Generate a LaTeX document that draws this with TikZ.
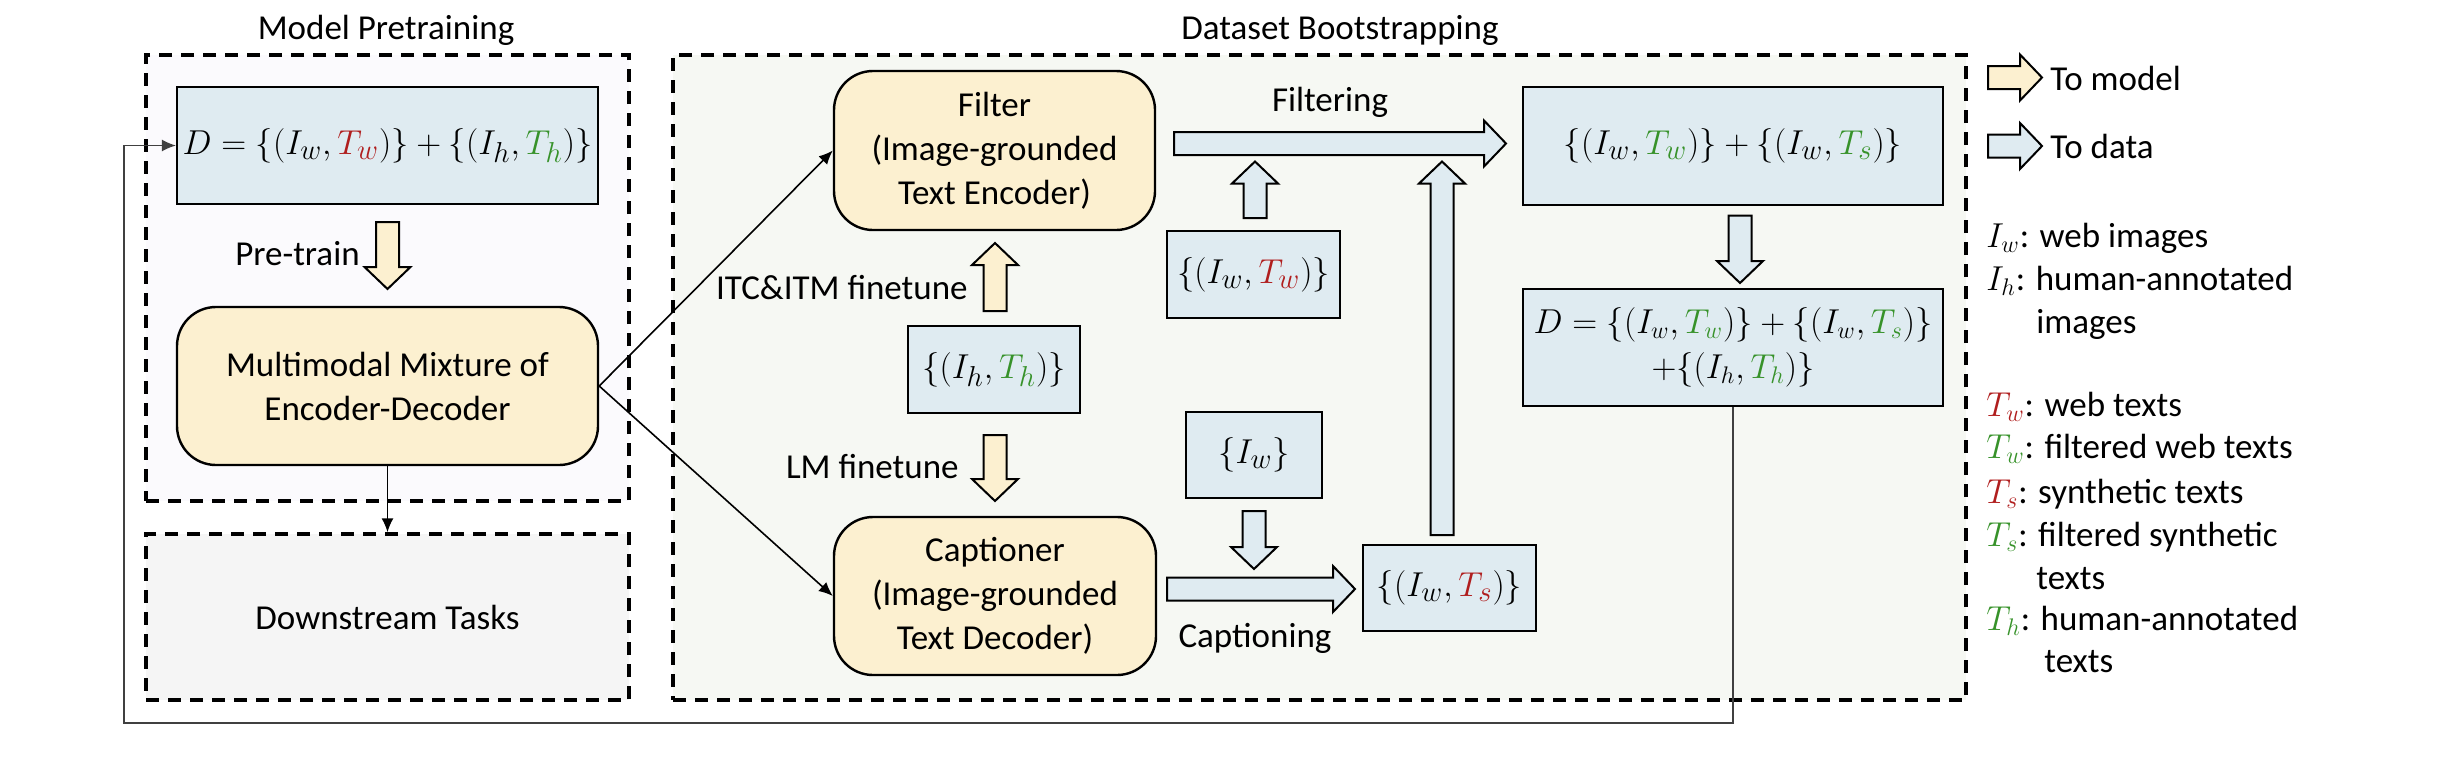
\documentclass[tikz,border=0pt]{standalone}
\usepackage{fontspec}
\setmainfont{Carlito}
\usetikzlibrary{arrows.meta,calc}
\definecolor{dblue}{HTML}{DFEBF1}
\definecolor{dbeige}{HTML}{FCF0D0}
\definecolor{mpbg}{HTML}{FBFAFD}
\definecolor{dbbg}{HTML}{F6F8F3}
\definecolor{dsbg}{HTML}{F5F5F5}
\definecolor{tred}{HTML}{B01E1E}
\definecolor{tgreen}{HTML}{37922A}
\newcommand\rT[1]{{\color{tred}T_{#1}}}
\newcommand\gT[1]{{\color{tgreen}T_{#1}}}
\newcommand\blockdown[3]{\path[#1] ($(#2)+(-5.75pt,0)$) -- ($(#2)+(5.75pt,0)$) -- ($(#3)+(5.75pt,11pt)$) -- ($(#3)+(11.5pt,11pt)$) -- (#3) -- ($(#3)+(-11.5pt,11pt)$) -- ($(#3)+(-5.75pt,11pt)$) -- cycle;}
\newcommand\blockup[3]{\path[#1] ($(#2)+(-5.75pt,0)$) -- ($(#2)+(5.75pt,0)$) -- ($(#3)+(5.75pt,-11pt)$) -- ($(#3)+(11.5pt,-11pt)$) -- (#3) -- ($(#3)+(-11.5pt,-11pt)$) -- ($(#3)+(-5.75pt,-11pt)$) -- cycle;}
\newcommand\blockright[3]{\path[#1] ($(#2)+(0,5.75pt)$) -- ($(#3)+(-11pt,5.75pt)$) -- ($(#3)+(-11pt,11.5pt)$) -- (#3) -- ($(#3)+(-11pt,-11.5pt)$) -- ($(#3)+(-11pt,-5.75pt)$) -- ($(#2)+(0,-5.75pt)$) -- cycle;}
\begin{document}
\begin{tikzpicture}[x=0.5pt,y=-0.5pt, font=\fontsize{17.5}{22}\selectfont,
  dbox/.style={draw, line width=1.2pt, fill=dblue, inner sep=0pt, align=center},
  mbox/.style={draw, line width=1.2pt, fill=dbeige, rounded corners=19.5pt, inner sep=0pt, align=center},
  cont/.style={draw, line width=1.7pt, dash pattern=on 6.5pt off 4.5pt, inner sep=0pt},
  barrow/.style={draw, line width=1pt, fill=dbeige},
  darrow/.style={draw, line width=1pt, fill=dblue},
  conn/.style={line width=0.8pt, -{Latex[length=7pt,width=6pt]}},
  fb/.style={line width=0.6pt, draw=black!75, -{Latex[length=7pt,width=6pt]}},
  lab/.style={inner sep=0pt},
  mth/.style={font=\fontsize{19}{24}\selectfont},
  mths/.style={font=\fontsize{17.5}{22.5}\selectfont},
]
\useasboundingbox (0,0) rectangle (2446,756);
% containers
\node[cont, fill=mpbg, minimum width=241.5pt, minimum height=223pt] (mp) at (387.5,278) {};
\node[cont, fill=dbbg, minimum width=646.5pt, minimum height=322.5pt] (db) at (1319.5,377.5) {};
\node[cont, fill=dsbg, minimum width=241.5pt, minimum height=83pt] (ds) at (387.5,617) {Downstream Tasks};
\node[lab] (tmp) at (386,30) {Model Pretraining};
\node[lab] (tdb) at (1340,30) {Dataset Bootstrapping};
% main nodes
\node[dbox, mth, minimum width=210.5pt, minimum height=58.5pt] (D) at (387.5,145.5) {$D=\{(I_w,\rT{w})\}+\{(I_h,\gT{h})\}$};
\node[mbox, minimum width=210.5pt, minimum height=79pt] (mm) at (387.5,386) {Multimodal Mixture of\\Encoder-Decoder};
\node[mbox, minimum width=160.5pt, minimum height=79.5pt] (filter) at (994.5,150.5) {Filter\\(Image-grounded\\Text Encoder)};
\node[mbox, minimum width=161pt, minimum height=79pt] (cap) at (995,596) {Captioner\\(Image-grounded\\Text Decoder)};
\node[dbox, mth, minimum width=86pt, minimum height=43.5pt] (ihth) at (994,369.5) {$\{(I_h,\gT{h})\}$};
\node[dbox, mth, minimum width=86.5pt, minimum height=43.5pt] (iwtw) at (1253.5,274.5) {$\{(I_w,\rT{w})\}$};
\node[dbox, mth, minimum width=68pt, minimum height=43pt] (iw) at (1254,455) {$\{I_w\}$};
\node[dbox, mth, minimum width=86.5pt, minimum height=43pt] (iwts) at (1449.5,588) {$\{(I_w,\rT{s})\}$};
\node[dbox, mth, minimum width=210pt, minimum height=59pt] (merged) at (1733,146) {$\{(I_w,\gT{w})\}+\{(I_w,\gT{s})\}$};
\node[dbox, mths, minimum width=210pt, minimum height=58.5pt] (final) at (1733,347.5) {$D=\{(I_w,\gT{w})\}+\{(I_w,\gT{s})\}$\\$+\{(I_h,\gT{h})\}$};
% thin connectors
\draw[conn] (mm.east) -- (filter.west);
\draw[conn] (mm.east) -- (cap.west);
\draw[conn] (mm.south) -- (ds.north);
\coordinate (fbc) at (124,723);
\draw[fb] (final.south) |- (fbc) |- (D.west);
% block arrows
\coordinate (a1) at (387.5,222); \coordinate (a2) at (387.5,289);
\blockdown{barrow}{a1}{a2}
\coordinate (b1) at (995,311); \coordinate (b2) at (995,243);
\blockup{barrow}{b1}{b2}
\coordinate (c1) at (995,435); \coordinate (c2) at (995,501);
\blockdown{barrow}{c1}{c2}
\coordinate (f1) at (1174,143.5); \coordinate (f2) at (1506,143.5);
\blockright{darrow}{f1}{f2}
\coordinate (g1) at (1255,218); \coordinate (g2) at (1255,161.5);
\blockup{darrow}{g1}{g2}
\coordinate (h1) at (1442,535); \coordinate (h2) at (1442,161.5);
\blockup{darrow}{h1}{h2}
\coordinate (i1) at (1254,511); \coordinate (i2) at (1254,569);
\blockdown{darrow}{i1}{i2}
\coordinate (j1) at (1167,589); \coordinate (j2) at (1355,589);
\blockright{darrow}{j1}{j2}
\coordinate (k1) at (1740,215.5); \coordinate (k2) at (1740,283);
\blockdown{darrow}{k1}{k2}
\coordinate (l1) at (1988,77.5); \coordinate (l2) at (2042,77.5);
\blockright{barrow}{l1}{l2}
\coordinate (m1) at (1988,146); \coordinate (m2) at (2042,146);
\blockright{darrow}{m1}{m2}
% labels
\node[lab, anchor=east] (lpre) at (360,254) {Pre-train};
\node[lab, anchor=east] (litc) at (968,288) {ITC\&ITM finetune};
\node[lab, anchor=east] (llm) at (959,467) {LM finetune};
\node[lab] (lfil) at (1330,102) {Filtering};
\node[lab] (lcap) at (1255,638) {Captioning};
\node[lab, anchor=west] (ltm) at (2050,78) {To model};
\node[lab, anchor=west] (ltd) at (2050,146) {To data};
% legend
\node[lab, anchor=base west] (e1) at (1986,247) {$I_w$: web images};
\node[lab, anchor=base west] (e2) at (1986,290) {$I_h$: human-annotated};
\node[lab, anchor=base west] (e3) at (2036,333) {images};
\node[lab, anchor=base west] (e4) at (1986,416) {$\rT{w}$: web texts};
\node[lab, anchor=base west] (e5) at (1986,458) {$\gT{w}$: filtered web texts};
\node[lab, anchor=base west] (e6) at (1986,503) {$\rT{s}$: synthetic texts};
\node[lab, anchor=base west] (e7) at (1986,546) {$\gT{s}$: filtered synthetic};
\node[lab, anchor=base west] (e8) at (2036,589) {texts};
\node[lab, anchor=base west] (e9) at (1986,630) {$\gT{h}$: human-annotated};
\node[lab, anchor=base west] (e10) at (2044,672) {texts};
\end{tikzpicture}
\end{document}
